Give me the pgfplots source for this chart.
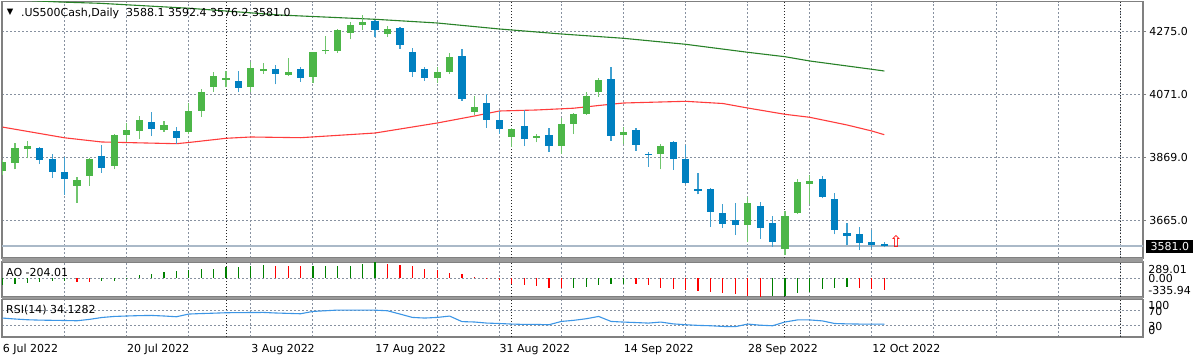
\documentclass[border=0pt]{standalone}
\usepackage{fontspec}
\setmainfont{DejaVu Sans}
\usepackage{pgfplots}
\pgfplotsset{compat=1.18}
\usepackage{pgfplotstable}
\newcommand{\fsz}{\fontsize{5.5bp}{6.6bp}\selectfont}
\definecolor{cgreen}{RGB}{76,182,72}
\definecolor{cblue}{RGB}{0,128,192}
\definecolor{aogreen}{RGB}{0,128,0}
\definecolor{aored}{RGB}{255,0,0}
\definecolor{gridc}{RGB}{135,145,160}
\definecolor{framec}{RGB}{128,128,128}
\definecolor{bidc}{RGB}{170,185,200}
\definecolor{maone}{RGB}{255,60,60}
\definecolor{matwo}{RGB}{40,130,40}
\definecolor{rsic}{RGB}{60,150,230}

\pgfplotstableread{
i o h l c
0 3824.7 3859.4 3810.8 3851.3
1 3848.7 3913.5 3829.3 3899.2
2 3895.0 3921.9 3864.9 3904.7
6 3776.1 3805.3 3721.1 3794.6
7 3806.6 3864.9 3776.1 3862.6
9 3840.9 3943.0 3829.3 3941.3
10 3940.4 3979.2 3918.7 3957.5
11 3954.3 4001.9 3927.4 3989.0
13 3955.6 3986.7 3951.1 3971.8
15 3949.1 4043.1 3942.6 4018.1
16 4018.1 4089.4 3998.7 4079.7
17 4094.9 4144.5 4080.6 4131.5
18 4117.6 4148.7 4094.9 4124.0
20 4094.9 4176.9 4080.6 4156.4
21 4147.7 4174.6 4138.0 4154.2
23 4134.7 4188.8 4131.5 4145.4
25 4128.3 4209.3 4110.4 4208.3
26 4213.5 4261.1 4201.8 4217.3
27 4214.1 4284.4 4207.6 4278.9
28 4270.8 4306.4 4250.4 4296.7
29 4295.7 4329.1 4280.5 4304.8
31 4268.5 4294.4 4257.8 4283.8
35 4126.6 4160.0 4109.8 4145.4
36 4144.5 4205.0 4138.0 4193.0
38 4013.3 4065.7 4005.2 4032.0
41 3932.9 3962.1 3902.5 3959.8
43 3933.9 3943.6 3916.7 3935.5
45 3905.7 3994.5 3878.8 3976.7
46 3976.7 4012.6 3943.0 4009.4
47 4010.0 4080.6 4005.2 4066.7
48 4079.7 4124.0 4064.4 4118.5
50 3941.3 3965.3 3911.2 3948.5
53 3877.8 3911.2 3829.3 3905.7
60 3648.8 3738.5 3594.7 3720.1
63 3570.1 3695.1 3551.6 3678.9
64 3686.7 3796.9 3684.4 3788.1
65 3781.6 3810.8 3716.8 3791.3
}\greenbars

\pgfplotstableread{
i o h l c
3 3897.3 3901.5 3846.4 3859.4
4 3861.6 3877.8 3802.0 3819.5
5 3821.5 3870.1 3746.0 3796.9
8 3871.4 3907.0 3817.3 3834.4
12 3981.5 4013.9 3937.1 3960.8
14 3954.3 3967.3 3911.2 3930.6
19 4115.3 4147.7 4078.7 4092.6
22 4153.2 4166.2 4104.6 4139.0
24 4153.2 4159.7 4113.0 4126.6
30 4309.7 4314.5 4256.9 4280.5
32 4287.0 4290.9 4219.0 4230.3
33 4208.3 4221.6 4129.2 4144.5
34 4153.2 4161.3 4116.3 4126.6
37 4195.3 4218.0 4051.5 4056.0
39 4043.1 4071.6 3964.0 3989.0
40 3988.0 4018.8 3944.3 3958.8
42 3969.5 4020.4 3904.7 3929.0
44 3939.7 3962.4 3886.3 3905.4
49 4120.8 4161.6 3921.9 3938.1
51 3957.5 3962.1 3889.5 3908.0
52 3879.5 3884.3 3837.7 3877.2
54 3917.7 3921.9 3827.0 3862.6
55 3862.0 3908.0 3780.7 3785.8
56 3764.5 3818.2 3748.3 3760.6
57 3765.4 3767.7 3643.3 3690.9
58 3686.7 3716.8 3640.1 3651.1
59 3665.0 3719.1 3616.4 3648.8
61 3711.3 3724.3 3603.5 3640.1
62 3654.3 3678.9 3578.5 3594.7
66 3797.8 3807.5 3735.3 3740.5
67 3733.0 3751.5 3618.7 3632.6
68 3621.9 3654.3 3584.0 3613.2
69 3618.7 3641.4 3567.8 3591.5
70 3593.7 3632.6 3573.3 3585.0
71 3588.1 3592.4 3576.2 3581.0
}\bluebars

\pgfplotstableread{
i v
0 -125
1 -104
2 -87
3 -69
4 -58
5 -46
8 -58
9 -46
10 -6
11 48
12 72
13 108
14 120
15 144
16 157
17 160
18 199
19 205
20 217
21 229
25 217
26 220
27 223
28 226
29 259
30 289.01
46 -174
47 -151
48 -116
49 -104
50 -98
62 -325
63 -318
64 -272
65 -243
66 -197
67 -174
68 -162
}\aoup

\pgfplotstableread{
i v
6 -69
7 -72
22 217
23 214
24 211
31 259
32 241
33 217
34 169
35 144
36 96
37 72
38 24
39 12
40 -35
41 -104
42 -127
43 -145
44 -174
45 -177
51 -104
52 -127
53 -174
54 -197
55 -203
56 -220
57 -243
58 -261
59 -290
60 -318
61 -335.94
69 -174
70 -191
71 -204.01
}\aodown

\pgfplotsset{
  panel/.style={
    scale only axis, width=570.5bp, anchor=south west,
    xmin=-0.04, xmax=91.83,
    axis line style={draw=framec, line width=0.8bp},
    xtick={0,5,...,90}, xticklabels={}, xmajorgrids,
    xtick style={draw=none},
    major grid style={draw=gridc, line width=0.5bp, dash pattern=on 1bp off 1bp},
    extra x ticks={18,41,63,90}, extra x tick labels={},
    extra x tick style={grid=major, major grid style={draw=black!85, line width=0.5bp, dash pattern=on 0.5bp off 1bp}},
    tick label style={font=\fsz},
  },
  candle/.style={draw=none, mark=none, forget plot, error bars/y explicit, error bars/error mark=none},
}

\begin{document}
\begin{tikzpicture}[font=\fsz]
\useasboundingbox (0,0) rectangle (600bp,180bp);
\fill[white] (0,0) rectangle (600bp,180bp);

% main price panel
\begin{axis}[panel, at={(1bp,51bp)}, height=128.25bp,
  ymin=3541.9, ymax=4372.8,
  ytick={3665,3869,4071,4275}, yticklabels={3665.0,3869.0,4071.0,4275.0},
  ymajorgrids, ytick pos=right, ytick style={draw=framec, line width=0.5bp},
  major tick length=1.5bp, tick align=outside,
  yticklabel style={anchor=west, inner sep=0pt, xshift=1.5bp}]
  \addplot[bidc, line width=0.75bp, forget plot] coordinates {(-1,3581) (93,3581)};
  \addplot[matwo, line width=0.55bp] coordinates {(0,4380) (4.6,4371.2) (7.85,4367) (15,4351) (22.3,4329.1) (30,4315.2) (35,4303.2) (40,4283.8) (45,4267.6) (50,4253.6) (55,4234.2) (60,4208.3) (63,4194.0) (65,4180.1) (70,4153.2) (71,4147.7)};
  \addplot[maone, line width=0.55bp] coordinates {(0,3966) (5,3931.3) (8,3917.7) (14,3912.2) (15,3916.1) (18,3929.7) (20,3933.9) (24,3931.6) (30,3946.8) (35,3979.2) (38,4001.9) (40,4018.1) (43,4021.4) (46,4027.2) (48,4035.9) (50,4044.0) (55,4049.5) (58,4042.4) (60,4027.8) (63,4007.4) (65,3997.7) (68,3972.8) (70,3953.3) (71,3941.3)};
  % wicks
  \addplot[candle, error bars/y dir=plus, error bars/error bar style={draw=cgreen!80, line width=0.6bp}]
    table[x=i, y=l, y error expr=\thisrow{h}-\thisrow{l}] {\greenbars};
  \addplot[candle, error bars/y dir=plus, error bars/error bar style={draw=cblue!75, line width=0.6bp}]
    table[x=i, y=l, y error expr=\thisrow{h}-\thisrow{l}] {\bluebars};
  % bodies
  \addplot[candle, error bars/y dir=both, error bars/error bar style={draw=cgreen, line width=3.6bp}]
    table[x=i, y expr=(\thisrow{o}+\thisrow{c})/2, y error expr={max(abs(\thisrow{c}-\thisrow{o})/2,1.8)}] {\greenbars};
  \addplot[candle, error bars/y dir=both, error bars/error bar style={draw=cblue, line width=3.6bp}]
    table[x=i, y expr=(\thisrow{o}+\thisrow{c})/2, y error expr={max(abs(\thisrow{c}-\thisrow{o})/2,1.8)}] {\bluebars};
  \addplot[only marks, mark=text, text mark={\fontsize{8bp}{9bp}\selectfont\textcolor{red}{⇧}}] coordinates {(71.95,3594)};
\end{axis}

% AO panel
\begin{axis}[panel, at={(1bp,31.5bp)}, height=17.5bp,
  ymin=-335.94, ymax=289.01, ytick={0}, yticklabels={}, ymajorgrids, ytick style={draw=none}]
  \addplot[ycomb, aogreen, line width=0.6bp, mark=none] table[x=i, y=v] {\aoup};
  \addplot[ycomb, aored, line width=0.6bp, mark=none] table[x=i, y=v] {\aodown};
\end{axis}

% RSI panel
\begin{axis}[panel, at={(1bp,11.5bp)}, height=18.75bp,
  ymin=0, ymax=100, ytick={30,70}, yticklabels={}, ymajorgrids, ytick style={draw=none},
  xticklabels={6 Jul 2022,,20 Jul 2022,,3 Aug 2022,,17 Aug 2022,,31 Aug 2022,,14 Sep 2022,,28 Sep 2022,,12 Oct 2022},
  xticklabel style={anchor=north west, inner sep=0pt, yshift=-3.3bp}]
  \addplot[rsic, line width=0.55bp] coordinates {(0,50.5) (1,48) (2,46) (3,45) (4,44.5) (5,44) (6,43.3) (7,47) (8,52) (9,54.8) (10,56) (11,57) (12,57.5) (13,56) (14,54) (15,61.2) (16,62.5) (17,63.5) (18,64.7) (19,65) (20,65.3) (21,65.5) (22,64) (23,63) (24,62) (25,68.2) (26,70) (27,71.8) (28,71.8) (29,71.8) (30,71.5) (31,70) (32,61.2) (33,52.2) (34,50.5) (35,52.2) (36,55.8) (37,41) (38,40) (39,37.1) (40,36) (41,34.5) (42,33.5) (43,33.5) (44,32.7) (45,41.5) (46,44.5) (47,48.7) (48,54.8) (49,41.5) (50,39.8) (51,38.5) (52,37.1) (53,39.8) (54,35) (55,32.7) (56,31) (57,30) (58,28.2) (59,27.5) (60,34.5) (61,31.5) (62,30) (63,40) (64,45.5) (65,45.5) (66,43) (67,36) (68,35) (69,34.5) (70,34.3) (71,34.1282)};
\end{axis}

% panel separators
\fill[framec!80] (1bp,49bp) rectangle (571.5bp,51bp);
\fill[framec!80] (1bp,30.25bp) rectangle (571.5bp,31.5bp);

% texts
\node[anchor=base west, inner sep=0pt, font=\fontsize{4.2bp}{5bp}\selectfont] at (3.2bp,172.6bp) {▼};
\node[anchor=base west, inner sep=0pt] at (10.4bp,171.7bp) {.US500Cash,Daily\ \ 3588.1 3592.4 3576.2 3581.0};
\node[anchor=base west, inner sep=0pt] at (2.9bp,41.5bp) {AO -204.01};
\node[anchor=base west, inner sep=0pt] at (2.9bp,23.3bp) {RSI(14) 34.1282};
\node[anchor=west, inner sep=0pt] at (574bp,45.25bp) {289.01};
\node[anchor=west, inner sep=0pt] at (574bp,40.65bp) {0.00};
\node[anchor=west, inner sep=0pt] at (574bp,35bp) {-335.94};
\node[anchor=west, inner sep=0pt] at (574bp,27.25bp) {100};
\node[anchor=west, inner sep=0pt] at (574bp,24.25bp) {70};
\node[anchor=west, inner sep=0pt] at (574bp,17bp) {30};
\node[anchor=west, inner sep=0pt] at (574bp,15bp) {0};
\node[anchor=west, fill=black, text=white, inner sep=0pt, minimum width=23.5bp, minimum height=6.7bp] at (573bp,56.7bp) {3581.0};
\end{tikzpicture}
\end{document}
